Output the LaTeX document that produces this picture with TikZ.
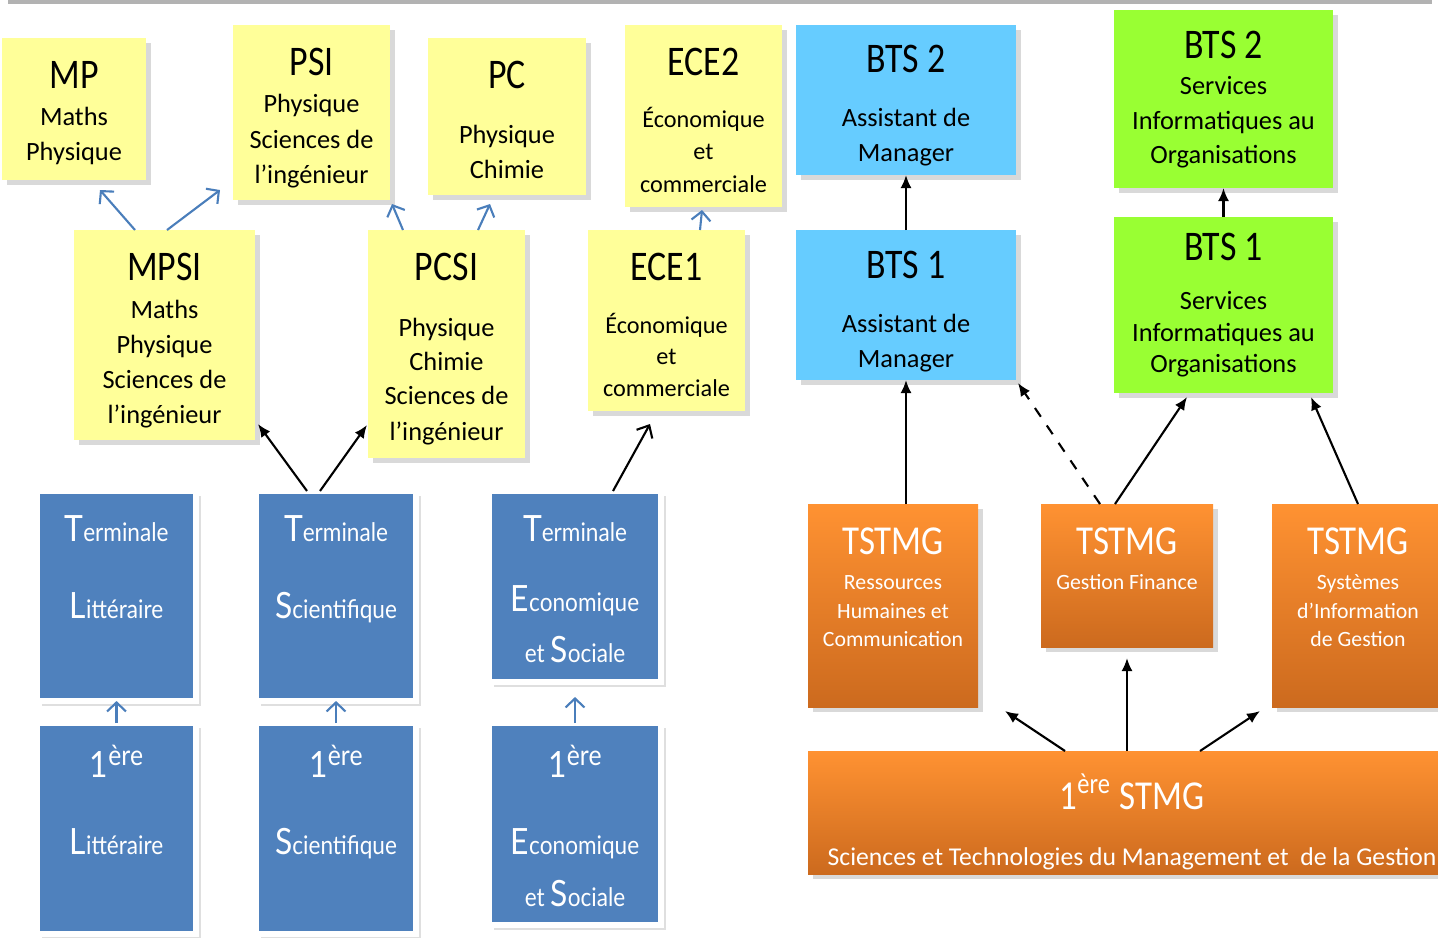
\documentclass[tikz,border=0pt]{standalone}
\usepackage{fontspec}
\setmainfont{Carlito}
\newfontfamily\titlefont{Carlito}[FakeStretch=0.85]
\newfontfamily\gillfont{Lato}[FakeStretch=0.88]
\usetikzlibrary{
	arrows,
	arrows.meta,
	calc,
	positioning,
	shadows
}
\definecolor{prepaYellow}{HTML}{FFFF99}
\definecolor{btsBlue}{HTML}{66CCFF}
\definecolor{btsGreen}{HTML}{99FF33}
\definecolor{lyceeBlue}{HTML}{4F81BD}
\definecolor{stmgTop}{HTML}{FF9232}
\definecolor{stmgBottom}{HTML}{CC6A1E}
\definecolor{arrowBlue}{HTML}{4A7EBB}
\tikzset{every path/.append style={line width=0.6pt}}
\tikzset{
	cardbase/.style={inner sep=0,outer sep=0,anchor=north west},
	card/.style={cardbase,drop shadow={shadow xshift=0.05cm,shadow yshift=-0.05cm,opacity=0.3}},
	prepa/.style={card,fill=prepaYellow},
	ece/.style={prepa},
	bts/.style={card,fill=btsBlue},
	btsio/.style={card,fill=btsGreen},
	lycee/.style={cardbase,fill=lyceeBlue,draw=white,line width=0.06cm,
		drop shadow={shadow xshift=0.05cm,shadow yshift=-0.05cm,opacity=0.25}},
	stmg/.style={card,top color=stmgTop,bottom color=stmgBottom},
	prepatext/.style={align=center,inner sep=0,anchor=north,font=\fontsize{7.5}{10}\selectfont},
	ecetext/.style={prepatext,font=\fontsize{6.9}{10}\selectfont},
	btstext/.style={prepatext},
	btsiotext/.style={prepatext},
	lyceetext/.style={prepatext,text=white,font=\gillfont\fontsize{7.3}{11}\selectfont},
	stmgtext/.style={prepatext,text=white,font=\fontsize{6.2}{8.1}\selectfont},
	up/.style={-{Straight Barb[length=0.9mm,width=1.9mm]},draw=arrowBlue},
	go/.style={-{Latex[length=1.3mm,width=1.1mm]}}
}
\newcommand{\tikzCard}[7][0.22]{%
	\node (#3) [#2,minimum width=#5cm,minimum height=#6cm] at #4 {};
	\node (#3t) [#2text] at ($(#3.north)+(0,-#1)$) {#7};
}
\newcommand{\cardTitle}[1]{{\titlefont\fontsize{12}{10}\selectfont #1}}
\newcommand{\stmgTitle}[1]{{\titlefont\fontsize{11.7}{8.1}\selectfont #1}}
\newcommand{\bigInitial}[1]{{\fontsize{10.3}{11}\selectfont #1}}
\newcommand{\premiere}{{\fontsize{10.3}{11}\selectfont 1}\raisebox{3.4pt}{\fontsize{8}{8}\selectfont ère}}

\begin{document}
\begin{tikzpicture}
	\useasboundingbox (0,0) rectangle (14.38,-9.37);
	\fill[gray!60] (0.08,0) rectangle (14.32,-0.04);

	% classes prepas
	\tikzCard{prepa}{mp}{(0.02,-0.38)}{1.44}{1.42}{\cardTitle{MP}\\[0.5pt] Maths\\ Physique}
	\tikzCard{prepa}{psi}{(2.33,-0.25)}{1.57}{1.75}{\cardTitle{PSI}\\[0.5pt] Physique\\[0.3pt] Sciences de\\ l'ingénieur}
	\tikzCard{prepa}{pc}{(4.28,-0.38)}{1.58}{1.57}{\cardTitle{PC}\\[5.6pt] Physique\\ Chimie}
	\tikzCard{ece}{ece2}{(6.25,-0.25)}{1.57}{1.82}{\cardTitle{ECE2}\\[4.8pt] Économique\\[-1pt] et\\[-0.5pt] commerciale}
	\tikzCard{prepa}{mpsi}{(0.74,-2.30)}{1.81}{2.10}{\cardTitle{MPSI}\\[0.8pt] Maths\\ Physique\\ Sciences de\\ l'ingénieur}
	\tikzCard{prepa}{pcsi}{(3.68,-2.30)}{1.57}{2.28}{\cardTitle{PCSI}\\[6pt] Physique\\[-0.3pt] Chimie\\[-0.3pt] Sciences de\\ l'ingénieur}
	\tikzCard{ece}{ece1}{(5.88,-2.30)}{1.57}{1.81}{\cardTitle{ECE1}\\[5pt] Économique\\[-1pt] et\\[-1pt] commerciale}

	% BTS
	\tikzCard[0.19]{bts}{btsam2}{(7.96,-0.25)}{2.20}{1.50}{\cardTitle{BTS 2}\\[5.4pt] Assistant de\\ Manager}
	\tikzCard[0.20]{bts}{btsam1}{(7.96,-2.30)}{2.20}{1.50}{\cardTitle{BTS 1}\\[5.4pt] Assistant de\\ Manager}
	\tikzCard[0.20]{btsio}{btsio2}{(11.14,-0.10)}{2.19}{1.78}{\cardTitle{BTS 2}\\[0.2pt] Services\\ Informatiques au\\[-0.3pt] Organisations}
	\tikzCard[0.15]{btsio}{btsio1}{(11.14,-2.17)}{2.19}{1.76}{\cardTitle{BTS 1}\\[4pt] Services\\[-1pt] Informatiques au\\[-1pt] Organisations}

	% lycee general
	\tikzCard[0.23]{lycee}{tl}{(0.37,-4.91)}{1.59}{2.10}{\bigInitial{T}erminale\\[11pt] \bigInitial{L}ittéraire}
	\tikzCard[0.21]{lycee}{pl}{(0.37,-7.23)}{1.59}{2.11}{\premiere\\[11pt] \bigInitial{L}ittéraire}
	\tikzCard[0.23]{lycee}{ts}{(2.56,-4.91)}{1.60}{2.10}{\bigInitial{T}erminale\\[11pt] \bigInitial{S}cientifique}
	\tikzCard[0.21]{lycee}{ps}{(2.56,-7.23)}{1.60}{2.11}{\premiere\\[11pt] \bigInitial{S}cientifique}
	\tikzCard[0.23]{lycee}{tes}{(4.89,-4.91)}{1.72}{1.91}{\bigInitial{T}erminale\\[9pt] \bigInitial{E}conomique\\[3.5pt] et \bigInitial{S}ociale}
	\tikzCard[0.21]{lycee}{pes}{(4.89,-7.23)}{1.72}{2.02}{\premiere\\[11pt] \bigInitial{E}conomique\\[3.8pt] et \bigInitial{S}ociale}

	% STMG
	\tikzCard[0.23]{stmg}{rhc}{(8.08,-5.04)}{1.70}{2.03}{\stmgTitle{TSTMG}\\[1.9pt] Ressources\\ Humaines et\\ Communication}
	\tikzCard[0.23]{stmg}{gf}{(10.41,-5.04)}{1.72}{1.43}{\stmgTitle{TSTMG}\\[1.9pt] Gestion Finance}
	\tikzCard[0.23]{stmg}{sig}{(12.72,-5.04)}{1.72}{2.03}{\stmgTitle{TSTMG}\\[1.9pt] Systèmes\\ d'Information\\ de Gestion}
	\tikzCard{stmg}{stmg}{(8.08,-7.51)}{6.48}{1.23}{\stmgTitle{1\textsuperscript{ère} STMG}\\[7.9pt] {\fontsize{7.3}{8.1}\selectfont Sciences et Technologies du Management et\ \ de la Gestion}}

	% fleches prepas
	\draw[up] ($(mpsi.north west)+(0.61,0)$) -- ($(mp.south)+(0.26,-0.10)$);
	\draw[up] ($(mpsi.north west)+(0.93,0)$) -- ($(psi.south west)+(-0.13,0.10)$);
	\draw[up] ($(pcsi.north west)+(0.35,0)$) -- ($(psi.south east)+(0.02,-0.04)$);
	\draw[up] ($(pcsi.north east)+(-0.47,0)$) -- ($(pc.south)+(-0.17,-0.09)$);
	\draw[up] ($(ece1.north)+(0.335,0)$) -- ($(ece2.south)+(-0.015,-0.03)$);

	% fleches lycee
	\draw[up] (pl.north) -- (tl.south);
	\draw[up] (ps.north) -- (ts.south);
	\draw[up,shorten >=0.15cm] (pes.north) -- (tes.south);
	\draw[go] ($(ts.north)+(-0.29,0)$) -- ($(mpsi.south east)+(0.03,0.16)$);
	\draw[go] ($(ts.north)+(-0.16,0)$) -- ($(pcsi.south west)+(-0.01,0.33)$);
	\draw[-{Straight Barb[length=1mm,width=1.8mm]}] ($(tes.north)+(0.38,0)$) -- ($(ece1.south)+(-0.165,-0.13)$);

	% fleches STMG
	\draw[go] (btsam1.south |- rhc.north) -- (btsam1.south);
	\draw[go] (btsam1.north) -- (btsam2.south);
	\draw[go,dashed] ($(gf.north)+(-0.27,0)$) -- ($(btsam1.south east)+(0.02,-0.03)$);
	\draw[go] ($(gf.north)+(-0.12,0)$) -- ($(btsio1.south)+(-0.365,-0.04)$);
	\draw[go] (sig.north) -- ($(btsio1.south east)+(-0.22,-0.04)$);
	\draw[go] (btsio1.north) -- (btsio2.south);
	\draw[go] ($(stmg.north)+(-0.67,0)$) -- ($(rhc.south east)+(0.27,-0.04)$);
	\draw[go,shorten >=0.11cm] (gf.south |- stmg.north) -- (gf.south);
	\draw[go] ($(stmg.north)+(0.68,0)$) -- ($(sig.south west)+(-0.12,-0.04)$);
\end{tikzpicture}
\end{document}
